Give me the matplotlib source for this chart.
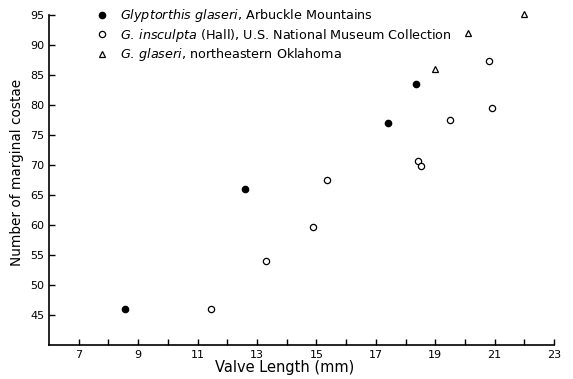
import matplotlib
matplotlib.use("Agg")
import matplotlib.pyplot as plt

# Glyptorthis glaseri, Arbuckle Mountains
arbuckle_len = [8.55, 12.6, 17.4, 18.35]
arbuckle_cost = [46.0, 66.0, 77.0, 83.5]

# G. insculpta (Hall), U.S. National Museum Collection
insculpta_len = [11.45, 13.3, 14.9, 15.37, 18.43, 18.53, 19.5, 20.9, 20.8]
insculpta_cost = [46.0, 54.0, 59.7, 67.5, 70.7, 69.8, 77.6, 79.6, 87.3]

# G. glaseri, northeastern Oklahoma
oklahoma_len = [19.0, 20.1, 22.0]
oklahoma_cost = [86.0, 92.0, 95.2]

x_ticks = list(range(7, 24))
x_labels = [str(v) if v % 2 == 1 else "" for v in x_ticks]
y_ticks = [45, 50, 55, 60, 65, 70, 75, 80, 85, 90, 95]

plt.rcParams["mathtext.fontset"] = "custom"
plt.rcParams["mathtext.it"] = "DejaVu Sans:italic"
plt.rcParams["mathtext.rm"] = "DejaVu Sans"

fig = plt.figure(figsize=(5.73, 3.79), dpi=100)
ax = fig.add_axes([0.0855, 0.0897, 0.8815, 0.8703])

ax.plot(arbuckle_len, arbuckle_cost, "o", color="black", ms=4.5, clip_on=False,
        label=r"$\it{Glyptorthis\ glaseri}$, Arbuckle Mountains")
ax.plot(insculpta_len, insculpta_cost, "o", mfc="white", mec="black", mew=0.9, ms=4.5,
        clip_on=False,
        label=r"$\it{G.\,insculpta}$ (Hall), U.S. National Museum Collection")
ax.plot(oklahoma_len, oklahoma_cost, "^", mfc="white", mec="black", mew=0.9, ms=4.5,
        clip_on=False,
        label=r"$\it{G.\,glaseri}$, northeastern Oklahoma")

ax.set_xlim(6.0, 23.0)
ax.set_ylim(40, 95)
ax.set_xticks(x_ticks)
ax.set_xticklabels(x_labels)
ax.set_yticks(y_ticks)
ax.tick_params(direction="in", length=4, width=1, labelsize=8, color="black")
ax.spines["top"].set_visible(False)
ax.spines["right"].set_visible(False)
ax.spines["left"].set_linewidth(1.2)
ax.spines["bottom"].set_linewidth(1.2)

ax.set_xlabel("Valve Length (mm)", fontsize=10.5, labelpad=1)
ax.set_ylabel("Number of marginal costae", fontsize=9.8, labelpad=5)
ax.xaxis.set_label_coords(0.467, -0.045, transform=ax.transAxes)
ax.yaxis.set_label_coords(-0.05, 0.524, transform=ax.transAxes)

ax.legend(loc="upper left", bbox_to_anchor=(0.083, 1.04), frameon=False,
          fontsize=9.2, handletextpad=0.9, labelspacing=0.2,
          handlelength=1.0, borderaxespad=0)

fig.savefig("out.png", dpi=100)
